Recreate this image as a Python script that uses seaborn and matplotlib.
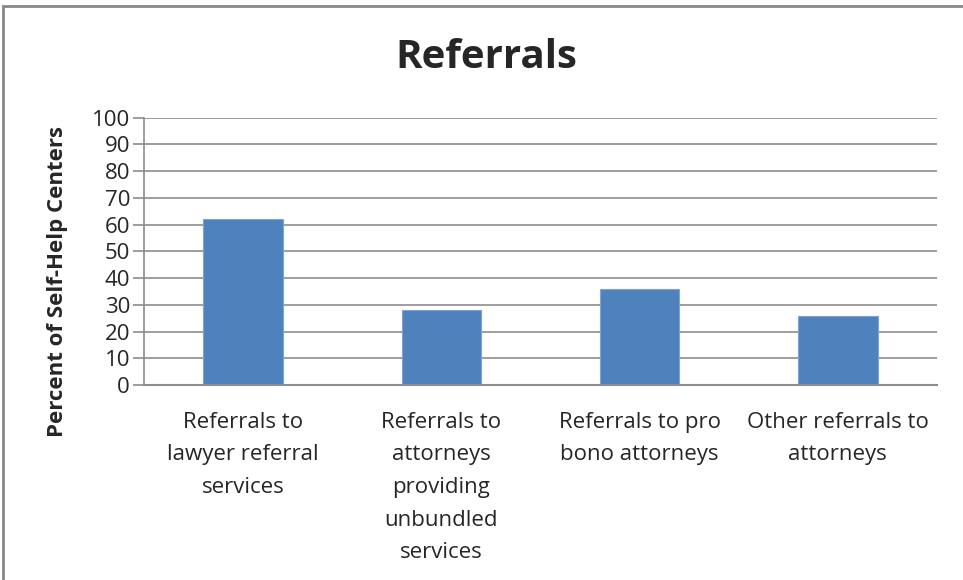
import numpy as np
import pandas as pd
import matplotlib
matplotlib.use("Agg")
import matplotlib.pyplot as plt
import seaborn as sns
from matplotlib.patches import Rectangle

# datos del grafico
categorias = ["Referrals to\nlawyer referral\nservices",
              "Referrals to\nattorneys\nproviding\nunbundled\nservices",
              "Referrals to pro\nbono attorneys",
              "Other referrals to\nattorneys"]
porcentajes = [62, 28, 36, 26]
ticks_y = list(range(0, 101, 10))

df = pd.DataFrame({"categoria": categorias, "porcentaje": porcentajes})

sns.set_style("white")
plt.rcParams['font.family'] = ['Open Sans', 'DejaVu Sans']

fig = plt.figure(figsize=(9.63, 5.8), dpi=100)
ax = fig.add_axes([0.1495, 0.336, 0.8235, 0.461])

sns.barplot(data=df, x="categoria", y="porcentaje", color="#4F81BD",
            saturation=1, width=0.4, edgecolor="#7FA3D3", linewidth=0.8, ax=ax)

gris = "#8C8C8C"
ax.set_ylim(0, 100)
ax.set_yticks(ticks_y)
ax.yaxis.grid(True, color=gris, linewidth=1.2)
ax.set_axisbelow(True)
ax.tick_params(axis="y", direction="out", length=8, color=gris, width=1.2,
               labelsize=16, pad=2, left=True)
ax.tick_params(axis="x", length=0, labelsize=16, pad=19)
for lbl in ax.get_xticklabels():
    lbl.set_linespacing(1.73)
    lbl.set_verticalalignment("top")
for s in ["top", "right"]:
    ax.spines[s].set_visible(False)
ax.spines["left"].set_color(gris)
ax.spines["left"].set_linewidth(1.2)
ax.spines["bottom"].set_color(gris)
ax.spines["bottom"].set_linewidth(1.5)
ax.set_xlabel("")
ax.set_ylabel("")
ax.set_xlim(-0.5, 3.5)

fig.text(0.505, 0.9, "Referrals", ha="center", va="center",
         fontsize=29, fontweight="bold")
fig.text(0.06, 0.515, "Percent of Self-Help Centers", rotation=90,
         ha="center", va="center", fontsize=16, fontweight="bold")

# borde del grafico
fig.patches.append(Rectangle((3 / 963, -0.1), 1.2, 1 - 5.5 / 580 + 0.1,
                             transform=fig.transFigure, fill=False,
                             edgecolor="#888888", linewidth=2))

fig.savefig("out.png", dpi=100)
